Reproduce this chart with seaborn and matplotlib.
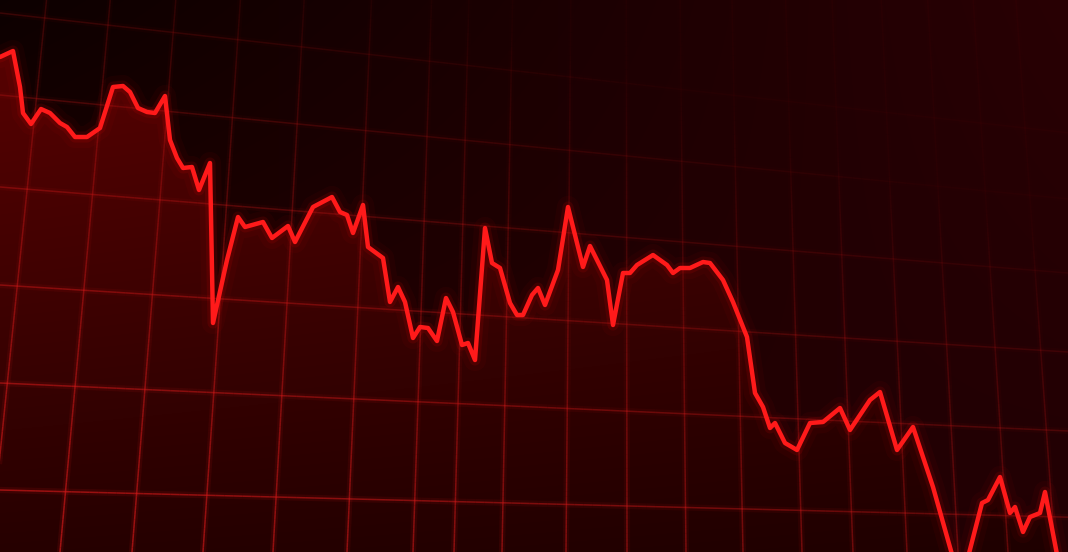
import numpy as np
import matplotlib
matplotlib.use("Agg")
import matplotlib.pyplot as plt
import seaborn as sns
from matplotlib.collections import LineCollection
from matplotlib.patches import Polygon

# time (screen columns) and price level
t = [0, 13, 20, 23, 31, 41, 50, 60, 67, 75, 87, 100, 113, 123, 130, 138, 147, 155, 165, 170,
     177, 183, 192, 199, 210, 213, 227, 238, 245, 263, 272, 288, 295, 313, 332, 340, 347, 353, 363, 368,
     383, 390, 398, 405, 413, 420, 428, 437, 446, 453, 462, 468, 475, 485, 492, 500, 510, 517, 523, 532,
     538, 545, 558, 568, 583, 590, 607, 613, 623, 630, 637, 653, 667, 673, 680, 690, 703, 710, 723, 733,
     747, 755, 763, 770, 775, 785, 797, 810, 823, 840, 850, 870, 880, 897, 913, 933, 955, 966, 982, 988,
     1000, 1010, 1015, 1023, 1030, 1040, 1045, 1060]
price = [495, 501, 465, 439, 428, 443, 439, 429, 425, 415, 415, 424, 465, 466, 460, 444, 440, 439, 456, 412,
         394, 384, 385, 362, 389, 229, 292, 335, 325, 330, 314, 326, 310, 345, 355, 340, 337, 319, 347, 305,
         294, 250, 265, 250, 214, 225, 224, 211, 254, 240, 207, 209, 192, 324, 289, 284, 249, 237, 237, 257,
         264, 247, 282, 345, 285, 306, 272, 227, 279, 279, 287, 297, 287, 279, 284, 284, 290, 289, 272, 250,
         215, 159, 145, 124, 129, 109, 102, 129, 130, 144, 122, 152, 160, 102, 125, 65, -13, -13, 49, 52,
         75, 39, 45, 20, 35, 39, 60, -18]

# perspective grid: where the lines cross the bottom edge / left edge
grid_x_bottom = [-10, 60, 132, 203, 273, 347, 413, 454, 502, 566, 627, 686, 743, 802, 853, 907, 958, 1008, 1055]
grid_y_left = [13, 95, 187, 285, 383, 490]

W, H = 1068, 552

sns.set_theme(style="dark")
fig = plt.figure(figsize=(10.68, 5.52), dpi=100)
ax = fig.add_axes([0, 0, 1, 1])
ax.set_xlim(0, W)
ax.set_ylim(0, H)
ax.axis("off")

# background: dark, a bit redder to the right and bottom
xx, yy = np.meshgrid(np.linspace(0, 1, W), np.linspace(0, 1, H))
r = (0.05 * (1 - xx) * (1 - yy) + 0.16 * xx * (1 - yy)
     + 0.15 * (1 - xx) * yy + 0.13 * xx * yy)
bg = np.dstack([r, r * 0.0, 0.015 * xx])
ax.imshow(bg, extent=[0, W, 0, H], origin="upper", aspect="auto", zorder=0)

# glow under the curve
fr = (0.36 * (1 - yy) + 0.15 * yy) * (1 - 0.2 * xx)
fill_img = np.dstack([fr, fr * 0.02, fr * 0.02])
im = ax.imshow(fill_img, extent=[0, W, 0, H], origin="upper", aspect="auto", zorder=1)
verts = list(zip(t, price)) + [(t[-1], -60), (t[0], -60)]
poly = Polygon(verts, closed=True, facecolor="none", edgecolor="none")
ax.add_patch(poly)
im.set_clip_path(poly)


def brightness(px, py):
    # px, py in screen pixels, py measured from the top
    v = (py / H) * 0.8 + (1 - px / W) * 0.6 - 0.35
    return 0.05 + 0.95 * np.clip(v, 0, 1)


def grid_line(x0, y0, x1, y1):
    # endpoints in screen pixels (y down)
    s = np.linspace(0, 1, 120)
    px = x0 + (x1 - x0) * s
    py = y0 + (y1 - y0) * s
    pts = np.column_stack([px, H - py])
    segs = np.stack([pts[:-1], pts[1:]], axis=1)
    b = brightness((px[:-1] + px[1:]) / 2, (py[:-1] + py[1:]) / 2)
    col = np.zeros((len(b), 4))
    col[:, 0] = 0.85
    col[:, 1] = 0.1
    col[:, 2] = 0.1
    glow = col.copy()
    col[:, 3] = 0.65 * b
    glow[:, 3] = 0.12 * b
    ax.add_collection(LineCollection(segs, colors=glow, linewidths=4.5, zorder=3))
    ax.add_collection(LineCollection(segs, colors=col, linewidths=1.1, zorder=3))


# vertical lines fan out from a point far above the screen
vx, vy = 620, -5600
for xb in grid_x_bottom:
    k = (0 - vy) / (H - vy)
    xt = vx + (xb - vx) * k
    grid_line(xt, 0, xb, H)

# horizontal lines converge toward a point far to the right
hx, hy = 5500, 630
for yl in grid_y_left:
    yr = yl + (hy - yl) * W / hx
    grid_line(0, yl, W, yr)

# the price curve with a soft glow
sns.lineplot(x=t, y=price, ax=ax, color="#ff0a0a", linewidth=16, alpha=0.04,
             estimator=None, sort=False, zorder=5)
sns.lineplot(x=t, y=price, ax=ax, color="#ff0a0a", linewidth=8, alpha=0.1,
             estimator=None, sort=False, zorder=6)
sns.lineplot(x=t, y=price, ax=ax, color="#ff1a1a", linewidth=3.2,
             estimator=None, sort=False, zorder=7)

ax.set_xlim(0, W)
ax.set_ylim(0, H)
fig.savefig("out.png", dpi=100, facecolor="black")
